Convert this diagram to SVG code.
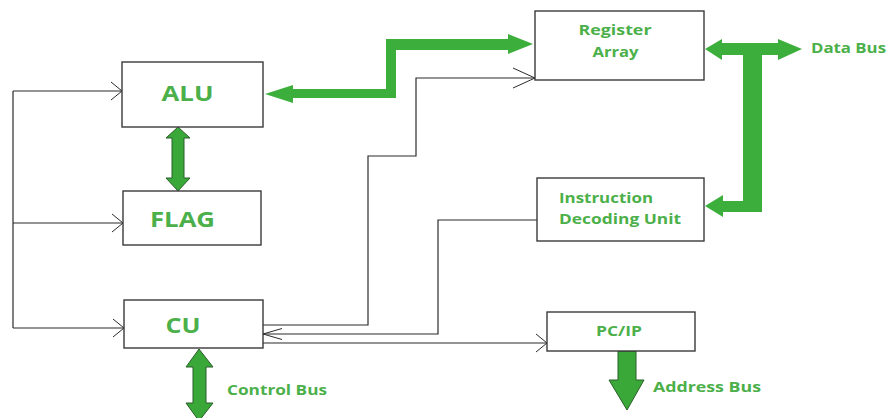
<svg xmlns="http://www.w3.org/2000/svg" width="889" height="418" viewBox="0 0 889 418">
<style>
.box{fill:#fff;stroke:#3a3a3a;stroke-width:1.4}
.wire{fill:none;stroke:#2b2b2b;stroke-width:1.2}
.lbl{font-family:"Open Sans","Liberation Sans",sans-serif;font-weight:bold;fill:#4cb04a}
.bus{fill:#3cae3c}
.bus2{fill:#3aa838;stroke:#2a5e2a;stroke-width:1}
</style>
<defs>
<marker id="arr" markerUnits="userSpaceOnUse" orient="auto" refX="0" refY="0" markerWidth="1" markerHeight="1" overflow="visible"><path d="M-11,-9 L0,0 L-11,9" fill="none" stroke="#2b2b2b" stroke-width="1"/></marker>
<marker id="arrL" markerUnits="userSpaceOnUse" orient="auto" refX="0" refY="0" markerWidth="1" markerHeight="1" overflow="visible"><path d="M-22,-10 L0,0 L-22,10" fill="none" stroke="#2b2b2b" stroke-width="1"/></marker>
<marker id="arrN" markerUnits="userSpaceOnUse" orient="auto" refX="0" refY="0" markerWidth="1" markerHeight="1" overflow="visible"><path d="M-19,-5.5 L0,0 L-19,5.5" fill="none" stroke="#2b2b2b" stroke-width="1"/></marker>
</defs>
<rect width="889" height="418" fill="#fff"/>
<g id="connectors">
<path class="wire" d="M13,91 V328"/>
<path class="wire" d="M13,91 H122" marker-end="url(#arr)"/>
<path class="wire" d="M13,223 H123" marker-end="url(#arr)"/>
<path class="wire" d="M13,328 H124" marker-end="url(#arr)"/>
<path class="wire" d="M263,325 H368 V156 H416 V78 H535" marker-end="url(#arrL)"/>
<path class="wire" d="M537,220 H438 V334 H263" marker-end="url(#arrN)"/>
<path class="wire" d="M263,343 H547" marker-end="url(#arr)"/>
<polygon class="bus" points="265,94 293,85 293,89 386,89 386,39 508,39 508,34 533,44 508,54 508,50 396,50 396,98 293,98 293,103"/>
<polygon class="bus" points="705,49 722,39 722,43 778,43 778,39 802,49 778,60 778,55 762,55 762,212 723,212 723,217 705,206 723,195 723,201 743,201 743,55 722,55 722,60"/>
<polygon class="bus2" points="178,127 190,138 184,138 184,178 190,178 178,191 166,178 172,178 172,138 166,138"/>
<polygon class="bus2" points="199,349 213,367 206,367 206,403 213,403 199,421 186,403 193,403 193,367 186,367"/>
<polygon class="bus2" points="618,351 636,351 636,380 644,380 627,410 609,380 618,380"/>
</g>
<g id="alu"><rect class="box" x="122" y="62" width="141" height="65"/><text class="lbl" x="187.5" y="101" font-size="21" text-anchor="middle" textLength="52" lengthAdjust="spacingAndGlyphs">ALU</text></g>
<g id="flag"><rect class="box" x="123" y="191" width="138" height="54"/><text class="lbl" x="182.5" y="227" font-size="21" text-anchor="middle" textLength="65" lengthAdjust="spacingAndGlyphs">FLAG</text></g>
<g id="cu"><rect class="box" x="124" y="300" width="139" height="48"/><text class="lbl" x="183" y="333" font-size="22" text-anchor="middle" textLength="35" lengthAdjust="spacingAndGlyphs">CU</text></g>
<g id="register-array"><rect class="box" x="535" y="11" width="169" height="69"/><text class="lbl" x="578.5" y="35" font-size="14" textLength="73" lengthAdjust="spacingAndGlyphs">Register</text><text class="lbl" x="592.5" y="57" font-size="14" textLength="46" lengthAdjust="spacingAndGlyphs">Array</text></g>
<g id="idu"><rect class="box" x="537" y="178" width="167" height="63"/><text class="lbl" x="559" y="203" font-size="15" textLength="94" lengthAdjust="spacingAndGlyphs">Instruction</text><text class="lbl" x="559" y="224" font-size="15" textLength="122" lengthAdjust="spacingAndGlyphs">Decoding Unit</text></g>
<g id="pcip"><rect class="box" x="547" y="312" width="148" height="39"/><text class="lbl" x="596" y="336" font-size="15" textLength="46" lengthAdjust="spacingAndGlyphs">PC/IP</text></g>
<g id="data-bus"><text class="lbl" x="811" y="53" font-size="15" textLength="75" lengthAdjust="spacingAndGlyphs">Data Bus</text></g>
<g id="control-bus"><text class="lbl" x="227" y="395" font-size="15" textLength="100" lengthAdjust="spacingAndGlyphs">Control Bus</text></g>
<g id="address-bus"><text class="lbl" x="653" y="392" font-size="15" textLength="108" lengthAdjust="spacingAndGlyphs">Address Bus</text></g>
</svg>
